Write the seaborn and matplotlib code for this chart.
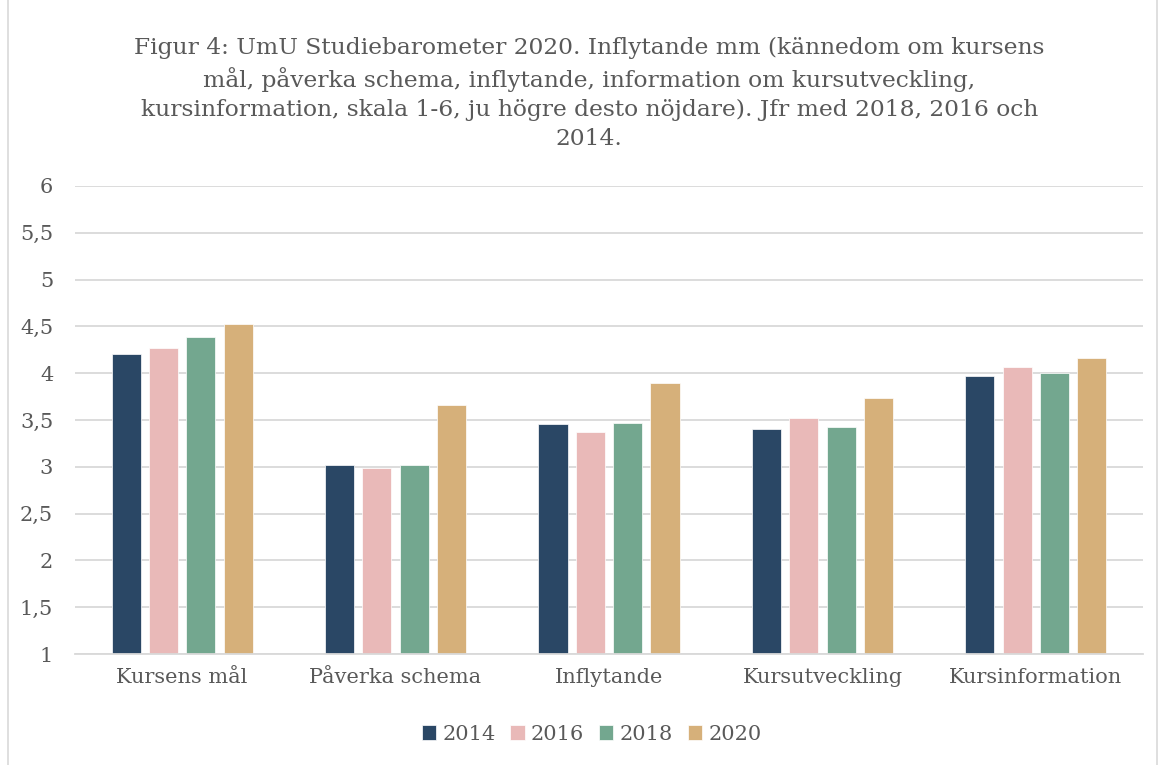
import numpy as np
import pandas as pd
import matplotlib
matplotlib.use("Agg")
import matplotlib.pyplot as plt
import seaborn as sns
from matplotlib.patches import Rectangle

# Data
kategorier = ["Kursens mål", "Påverka schema", "Inflytande", "Kursutveckling", "Kursinformation"]
ar = ["2014", "2016", "2018", "2020"]
v2014 = [4.20, 3.02, 3.46, 3.40, 3.97]
v2016 = [4.27, 2.99, 3.37, 3.52, 4.07]
v2018 = [4.39, 3.02, 3.47, 3.42, 4.00]
v2020 = [4.53, 3.66, 3.90, 3.74, 4.16]
yticks = [1, 1.5, 2, 2.5, 3, 3.5, 4, 4.5, 5, 5.5, 6]
farger = ["#2a4765", "#e9b9b8", "#73a78f", "#d6b07a"]

df = pd.DataFrame({
    "kategori": kategorier * 4,
    "ar": np.repeat(ar, len(kategorier)),
    "varde": v2014 + v2016 + v2018 + v2020,
})

sns.set_theme(style="white")
plt.rcParams["font.family"] = ["DejaVu Serif"]
textfarg = "#595959"

fig = plt.figure(figsize=(11.6, 7.65), dpi=100)
ax = fig.add_axes([0.065, 0.145, 0.92, 0.612])

sns.barplot(data=df, x="kategori", y="varde", hue="ar", palette=farger,
            saturation=1, width=0.7, gap=0.22, ax=ax, legend=True,
            edgecolor="white", linewidth=0.5)

ax.set_ylim(1, 6)
ax.set_yticks(yticks)
ax.set_yticklabels([f"{t:g}".replace(".", ",") for t in yticks])
ax.set_xlim(-0.5, 4.5)
ax.yaxis.grid(True, color="#d9d9d9", linewidth=1.3)
ax.set_axisbelow(True)
for s in ["top", "right", "left"]:
    ax.spines[s].set_visible(False)
ax.spines["bottom"].set_color("#d9d9d9")
ax.spines["bottom"].set_linewidth(1.3)
ax.tick_params(axis="both", length=0, labelsize=15, colors=textfarg, pad=10)
ax.tick_params(axis="y", pad=16)
ax.set_xlabel("")
ax.set_ylabel("")

handles, labels = ax.get_legend_handles_labels()
ax.get_legend().remove()
fig.legend(handles, labels, loc="center", bbox_to_anchor=(0.51, 0.04), ncol=4,
           frameon=False, fontsize=15, handlelength=0.7, handleheight=0.7,
           handletextpad=0.3, columnspacing=0.7, labelcolor=textfarg)

fig.text(0.508, 0.878,
         "Figur 4: UmU Studiebarometer 2020. Inflytande mm (kännedom om kursens\n"
         "mål, påverka schema, inflytande, information om kursutveckling,\n"
         "kursinformation, skala 1-6, ju högre desto nöjdare). Jfr med 2018, 2016 och\n"
         "2014.",
         ha="center", va="center", fontsize=16.8, color=textfarg, linespacing=1.4)

fig.patches.append(Rectangle((0.007, -0.01), 0.99, 1.02, transform=fig.transFigure,
                             fill=False, edgecolor="#d9d9d9", linewidth=1.2))

fig.savefig("out.png", dpi=100)
